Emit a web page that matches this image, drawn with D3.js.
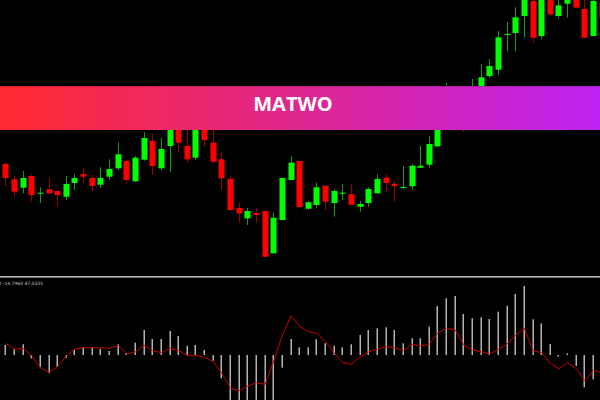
<!DOCTYPE html>
<html>
<head>
<meta charset="utf-8">
<script src="https://cdn.jsdelivr.net/npm/d3@7"></script>
<style>
	html, body { margin: 0; padding: 0; background: #000; }
	svg { display: block; }
</style>
</head>
<body>
<script>
'use strict';

// candle data, oldest first
const opens  = [136, 120.7, 112.3, 124, 106.7, 110.7, 109, 103.3, 117, 126, 122, 115.3, 123.3, 131.7, 139, 118.7, 140.3, 159, 131.7, 154,
	188, 154, 142.3, 188, 157.3, 140.7, 121, 92, 81.7, 87, 89, 46.7, 80, 120, 139, 91.3, 95, 114.3, 97, 106.7,
	105.7, 93.3, 97, 106.7, 122.3, 116.3, 112.4, 113.7, 132.3, 135.3, 153.7, 176, 196, 186, 176, 202, 224, 230.3, 265.5, 267,
	284, 299, 264, 302, 284, 296.3, 305, 291, 264, 298];
const highs  = [137.7, 124, 129, 125.7, 112.7, 122.3, 109, 124, 126, 132.7, 125.7, 133, 140.7, 157.7, 140, 144, 167.7, 166, 162.3, 192,
	200, 180, 195, 200, 175, 148, 124, 97.7, 92.3, 91.7, 89, 87.3, 122, 144, 139, 99, 117.3, 114.3, 111, 116,
	116, 99, 112.7, 125.7, 125.7, 119, 134, 136, 154, 164, 182, 217, 205, 200, 221, 236, 241, 269, 278, 293,
	305, 302, 304, 308, 300, 306, 308, 300, 302, 301];
const lows   = [114, 103.3, 106.7, 98.3, 97, 106.5, 93.3, 100, 110, 116.7, 108.3, 112, 120, 130, 116.7, 118, 139.3, 125, 130, 128,
	147.3, 137.3, 140, 153.3, 136.7, 110, 89.5, 77.3, 75, 77.3, 43, 46.7, 80, 120, 93, 90, 91.7, 90, 83.3, 100,
	95.3, 88.3, 93.3, 106.7, 108.3, 98.3, 110.7, 110.7, 132.3, 132.3, 153, 172, 178, 168, 174, 200, 222, 225.3, 248.7, 248.7,
	262.3, 257.3, 260.7, 284, 281.7, 282.3, 292.3, 262.3, 264, 280];
const closes = [122, 108.3, 122, 105, 107.3, 106.7, 105, 116, 122, 123.3, 114, 122, 131, 145.7, 120, 142.3, 162, 134, 151, 182,
	157.3, 140.7, 185, 160, 138.3, 121.7, 90, 86.7, 89, 85, 43.3, 82.3, 122, 137.3, 93, 97.7, 112.7, 98.3, 109, 107.3,
	95.3, 96, 111, 121, 117, 114, 113, 134.3, 134.3, 156, 178, 195, 185, 174, 204, 222.7, 234, 262.7, 266, 282.7,
	303, 262.3, 300, 285.7, 294.7, 304, 292.3, 262.3, 299, 282.3];

// oscillator: histogram and signal line
const histogram = [10, 6, 10.7, -3.3, -11.7, -18.3, -11.7, -3, 5, 7.3, 7.3, 6, 4, 10.7, 2, 12.3, 25, 16, 16, 24,
	19, 9.3, 10, 5, -5.7, -23.3, -55, -60, -58, -60, -62, -50, -12.7, 16, 7.7, 7.7, 15.7, 11.7, 9.3, 7.7,
	10.7, 20, 25, 26.7, 27.7, 25, 11.7, 16.7, 16.7, 28.3, 49, 56.7, 59, 41, 36.7, 37.7, 36, 43.3, 49.3, 61,
	69, 35.7, 31.7, 11, -1.5, 1.5, -11, -32.3, -24.3, -20];
const signal = [11.7, 5.7, 6.7, -1, -12.7, -17.3, -11.7, -1, 6, 7.3, 7.3, 7.3, 6.7, 9.7, 1, 3.3, 9.7, 4.3, 2.3, 6.7,
	4.3, -0.7, -0.3, -2.3, -6.7, -18.3, -33.3, -35.7, -31, -27.7, -29.3, -6, 20, 39, 29, 23.3, 21.7, 13.3, 1.7, -7.7,
	-9.3, -1.7, 3.3, 5.7, 8.3, 7.3, 4.3, 10.7, 9, 10.7, 22.3, 26.7, 25, 10, 5, 3.3, 1, 5.7, 11, 20,
	26.7, 4.3, 2.3, -8.3, -13.7, -7.7, -13.7, -26, -15, -18.3];

const indicatorLabel = '0 -14.7960 47.0335';
const bannerText = 'MATWO';

const DIMENSIONS = {
	'canvas' : { 'width' : 600, 'height': 400 },
	'price'  : { 'top' : 0, 'bottom' : 276 },
	'osc'    : { 'top' : 277, 'bottom' : 400 },
	'banner' : { 'top' : 86, 'height' : 44 }
};

let candles = opens.map((o, i) => ({ i: i, o: o, h: highs[i], l: lows[i], c: closes[i] }));

let xScale = d3.scaleLinear().domain([0, candles.length - 1]).range([5.3, 601.7]);
let yPrice = d3.scaleLinear().domain([20, 300]).range([280, 0]);
let yOsc   = d3.scaleLinear().domain([-45, 78]).range([DIMENSIONS.osc.bottom, DIMENSIONS.osc.top]);

let svg = d3.select('body').append('svg')
	.attr('width', DIMENSIONS.canvas.width)
	.attr('height', DIMENSIONS.canvas.height)
	.style('background', '#000');

let defs = svg.append('defs');
defs.append('clipPath').attr('id', 'price-clip')
	.append('rect').attr('x', 0).attr('y', 0).attr('width', 600).attr('height', DIMENSIONS.price.bottom);
defs.append('clipPath').attr('id', 'osc-clip')
	.append('rect').attr('x', 0).attr('y', DIMENSIONS.osc.top + 1).attr('width', 600).attr('height', 400 - DIMENSIONS.osc.top);

let grad = defs.append('linearGradient').attr('id', 'banner-grad').attr('x1', '0%').attr('x2', '100%');
grad.append('stop').attr('offset', '0%').attr('stop-color', '#ff2a2e');
grad.append('stop').attr('offset', '100%').attr('stop-color', '#be22f2');

// candles
let price = svg.append('g').attr('clip-path', 'url(#price-clip)');
let candle = price.selectAll('g.candle')
	.data(candles)
	.enter()
	.append('g')
	.attr('class', 'candle');

candle.append('line')
	.attr('x1', (d) => Math.round(xScale(d.i)) + 0.5)
	.attr('x2', (d) => Math.round(xScale(d.i)) + 0.5)
	.attr('y1', (d) => yPrice(d.h))
	.attr('y2', (d) => yPrice(d.l))
	.attr('stroke', (d) => d.c >= d.o ? '#139a13' : '#9a0000')
	.attr('stroke-width', 1);

candle.append('rect')
	.attr('x', (d) => Math.round(xScale(d.i)) - 2.5)
	.attr('width', 6)
	.attr('y', (d) => yPrice(Math.max(d.o, d.c)))
	.attr('height', (d) => Math.max(1, Math.abs(yPrice(d.o) - yPrice(d.c))))
	.attr('fill', (d) => d.c >= d.o ? '#00ff00' : '#ff0000');

// separator between panels
svg.append('rect').attr('x', 0).attr('y', 276).attr('width', 600).attr('height', 1).attr('fill', '#b4b4b4');
svg.append('rect').attr('x', 0).attr('y', 277).attr('width', 600).attr('height', 1).attr('fill', '#707070');

// oscillator panel
let osc = svg.append('g').attr('clip-path', 'url(#osc-clip)');
osc.selectAll('rect.hist')
	.data(histogram)
	.enter()
	.append('rect')
	.attr('class', 'hist')
	.attr('x', (d, i) => Math.round(xScale(i)) - 0.5)
	.attr('width', 1.5)
	.attr('y', (d) => Math.min(yOsc(0), yOsc(d)))
	.attr('height', (d) => Math.max(1, Math.abs(yOsc(d) - yOsc(0))))
	.attr('fill', '#b4b4b4');

let signalLine = d3.line()
	.x((d, i) => xScale(i) + 0.5)
	.y((d) => yOsc(d));
osc.append('path')
	.datum(signal)
	.attr('d', signalLine)
	.attr('fill', 'none')
	.attr('stroke', '#c80000')
	.attr('stroke-width', 1);

svg.append('text')
	.text(indicatorLabel)
	.attr('x', -1.5)
	.attr('y', 285)
	.attr('fill', '#c8c8c8')
	.style('font-family', 'DejaVu Sans, sans-serif')
	.style('font-size', '4.5px');

// banner over the chart
svg.append('rect')
	.attr('x', 0).attr('y', DIMENSIONS.banner.top)
	.attr('width', 600).attr('height', DIMENSIONS.banner.height)
	.attr('fill', 'url(#banner-grad)');
svg.append('rect')
	.attr('x', 0).attr('y', DIMENSIONS.banner.top)
	.attr('width', 600).attr('height', 1)
	.attr('fill', '#000').attr('opacity', 0.15);

svg.append('text')
	.text(bannerText)
	.attr('x', 293)
	.attr('y', 111.3)
	.attr('text-anchor', 'middle')
	.attr('fill', '#ffffff')
	.style('font-family', '"Open Sans", sans-serif')
	.style('font-weight', 700)
	.style('font-size', '20px');
</script>
</body>
</html>
